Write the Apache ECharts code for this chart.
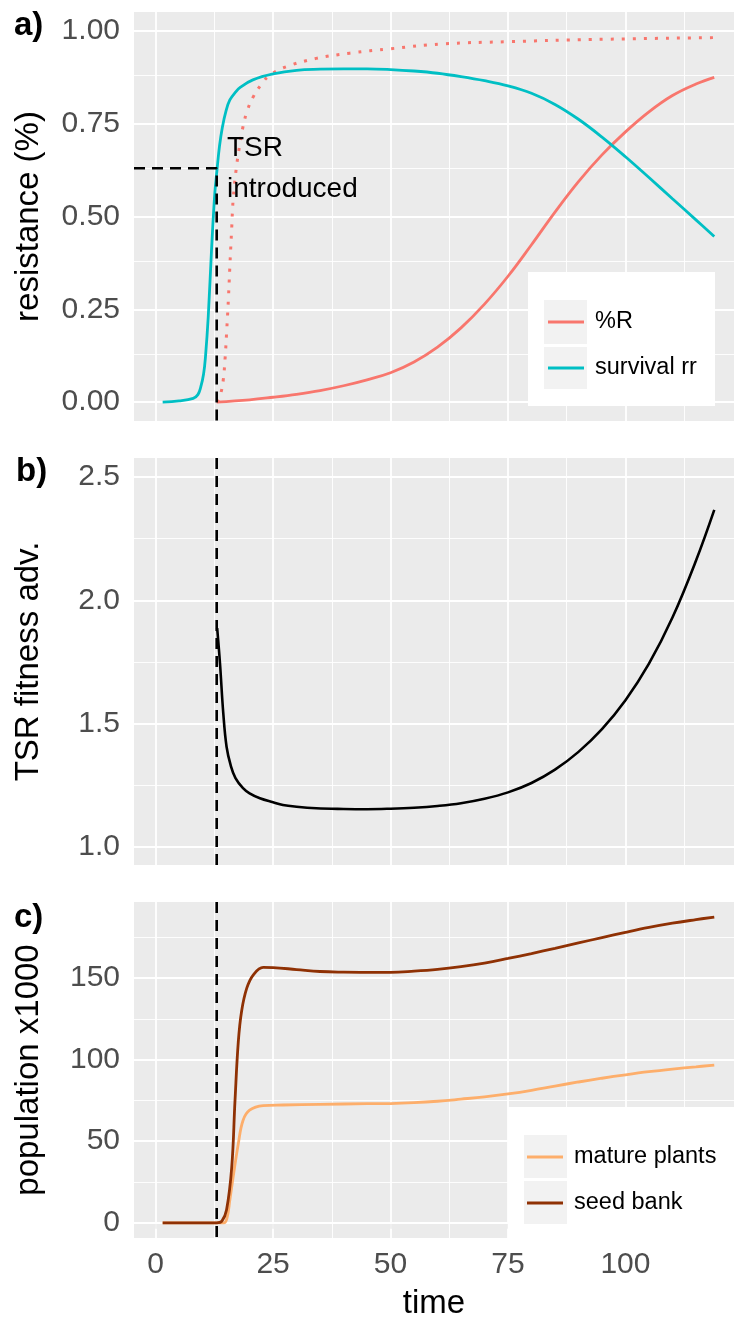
<!DOCTYPE html>
<html>
<head>
<meta charset="utf-8">
<script src="https://cdn.jsdelivr.net/npm/echarts@6/dist/echarts.min.js"></script>
<style>
  html, body { margin: 0; padding: 0; background: #fff; }
  #chart { width: 734px; height: 1321px; }
</style>
</head>
<body>
<div id="chart"></div>
<script>
// shared time axis
const timeMin = -4.6, timeMax = 123.1;
const timeTicks = [0, 25, 50, 75, 100];
const timeMinor = [12.5, 37.5, 62.5, 87.5, 112.5];
const tsrTime = 13;      // TSR introduced
const tsrLevel = 0.63;   // survival at introduction

// a) resistance
const resMin = -0.051, resMax = 1.051;
const resTicks = [0, 0.25, 0.5, 0.75, 1];
const resMinor = [0.125, 0.375, 0.625, 0.875];
const survTime = [1.5, 5, 8, 9, 9.6, 10.2, 10.6, 11.2, 11.9, 12.6, 13.1, 13.6, 14.2, 15, 15.8, 17, 18, 20.7, 25, 30, 35, 40, 45, 50, 55, 60, 65, 70, 75, 80, 85, 90, 95, 100, 105, 110, 115, 118.9];
const survRR = [0, 0.003, 0.01, 0.02, 0.04, 0.075, 0.12, 0.23, 0.41, 0.563, 0.63, 0.69, 0.74, 0.785, 0.814, 0.835, 0.848, 0.868, 0.884, 0.894, 0.897, 0.898, 0.898, 0.896, 0.892, 0.886, 0.877, 0.866, 0.852, 0.832, 0.802, 0.762, 0.714, 0.661, 0.605, 0.548, 0.491, 0.446];
const pctRTime = [13, 20, 25, 30, 35, 40, 45, 50, 55, 60, 65, 70, 75, 80, 85, 90, 95, 100, 105, 110, 115, 118.9];
const pctR = [0, 0.006, 0.013, 0.021, 0.031, 0.044, 0.06, 0.079, 0.108, 0.148, 0.2, 0.264, 0.339, 0.424, 0.512, 0.594, 0.666, 0.728, 0.782, 0.826, 0.857, 0.875];
const survRTime = [13, 13.3, 13.9, 14.4, 14.8, 15.1, 15.5, 15.8, 16.2, 16.5, 17.2, 18, 18.6, 19.5, 20.8, 22.5, 24.3, 27.9, 34.2, 41.3, 50, 61, 75, 93, 118.9];
const survR = [0, 0.005, 0.025, 0.06, 0.12, 0.185, 0.28, 0.365, 0.47, 0.545, 0.633, 0.70, 0.742, 0.785, 0.823, 0.856, 0.881, 0.904, 0.926, 0.94, 0.952, 0.965, 0.971, 0.977, 0.982];

// b) TSR fitness advantage
const fitMin = 0.928, fitMax = 2.576;
const fitTicks = [1, 1.5, 2, 2.5];
const fitMinor = [1.25, 1.75, 2.25];
const fitTime = [13.1, 13.7, 14.4, 15.1, 16, 17, 18.6, 20, 22.2, 25, 27.1, 30, 34.2, 40, 45, 50, 55, 60, 65, 70, 75, 80, 85, 90, 95, 100, 105, 110, 115, 118.9];
const fitAdv = [1.887, 1.745, 1.543, 1.407, 1.33, 1.28, 1.239, 1.218, 1.198, 1.182, 1.171, 1.164, 1.158, 1.155, 1.154, 1.156, 1.16, 1.167, 1.178, 1.196, 1.222, 1.26, 1.314, 1.386, 1.478, 1.595, 1.743, 1.93, 2.16, 2.366];

// c) population x1000
const popMin = -9.3, popMax = 196.6;
const popTicks = [0, 50, 100, 150];
const popMinor = [25, 75, 125, 175];
const seedTime = [1.5, 13, 14.1, 15.1, 16.2, 16.9, 17.6, 18.3, 19.4, 20.8, 22.9, 25, 30, 35, 40, 45, 50, 55, 60, 65, 70, 75, 80, 85, 90, 95, 100, 105, 110, 115, 118.9];
const seedBank = [0, 0, 1, 8, 34, 75, 111, 129.7, 143.8, 152, 156.5, 156.4, 155.2, 154, 153.6, 153.5, 153.5, 154.2, 155.3, 157, 159.2, 162, 165, 168.2, 171.5, 174.8, 178, 181, 183.6, 185.8, 187.4];
const matureTime = [1.5, 14.5, 15.2, 15.8, 16.5, 17.6, 18.6, 20, 22.9, 27.1, 35, 45, 50, 55, 60, 65, 70, 75, 80, 85, 90, 95, 100, 105, 110, 115, 118.9];
const mature = [0, 0, 3, 14, 28, 48.5, 62.7, 69, 71.8, 72.2, 72.6, 73, 73.1, 73.6, 74.5, 75.8, 77.2, 79, 81.2, 83.8, 86.3, 88.6, 90.7, 92.6, 94.2, 95.6, 96.7];

const FONT = '"Liberation Sans", Arial, sans-serif';
const zip = (xs, ys) => xs.map((x, i) => [x, ys[i]]);

const grids = [
  { left: 134, top: 12, width: 600, height: 409 },
  { left: 134, top: 458, width: 600, height: 407 },
  { left: 134, top: 902, width: 600, height: 339 }
].map(g => Object.assign(g, { show: true, backgroundColor: '#EBEBEB', borderWidth: 0 }));

const yDefs = [
  { min: resMin, max: resMax, ticks: resTicks, minor: resMinor, name: 'resistance (%)', fmt: v => v.toFixed(2) },
  { min: fitMin, max: fitMax, ticks: fitTicks, minor: fitMinor, name: 'TSR fitness adv.', fmt: v => v.toFixed(1) },
  { min: popMin, max: popMax, ticks: popTicks, minor: popMinor, name: 'population x1000', fmt: v => String(v) }
];

const xAxis = [0, 1, 2].map(i => ({
  type: 'value', gridIndex: i, min: timeMin, max: timeMax,
  splitLine: { show: false }, axisLine: { show: false },
  axisTick: { show: i === 2, customValues: timeTicks, length: 6, lineStyle: { color: '#333', width: 1.5 } },
  axisLabel: { show: i === 2, customValues: timeTicks, fontSize: 30, color: '#4D4D4D', fontFamily: FONT, margin: 12 },
  name: i === 2 ? 'time' : '', nameLocation: 'middle', nameGap: 49,
  nameTextStyle: { fontSize: 33, color: '#000', fontFamily: FONT }
}));

const yAxis = yDefs.map((d, i) => ({
  type: 'value', gridIndex: i, min: d.min, max: d.max,
  splitLine: { show: false }, axisLine: { show: false },
  axisTick: { show: true, customValues: d.ticks, length: 6, lineStyle: { color: '#333', width: 1.5 } },
  axisLabel: { customValues: d.ticks, formatter: d.fmt, fontSize: 30, color: '#4D4D4D', fontFamily: FONT, margin: 14 },
  name: d.name, nameLocation: 'middle', nameGap: 89,
  nameTextStyle: { fontSize: 33, color: '#000', fontFamily: FONT }
}));

// white panel grid lines
function gridLines(i) {
  const major = { color: '#fff', width: 1.8, type: 'solid' };
  const minor = { color: '#fff', width: 0.9, type: 'solid' };
  const d = yDefs[i];
  const data = [];
  timeMinor.forEach(v => data.push({ xAxis: v, lineStyle: minor }));
  d.minor.forEach(v => data.push({ yAxis: v, lineStyle: minor }));
  timeTicks.forEach(v => data.push({ xAxis: v, lineStyle: major }));
  d.ticks.forEach(v => data.push({ yAxis: v, lineStyle: major }));
  return {
    type: 'line', xAxisIndex: i, yAxisIndex: i, data: [], z: 1, silent: true,
    markLine: { silent: true, z: 1, symbol: ['none', 'none'], label: { show: false }, animation: false, data: data }
  };
}

function curve(name, i, xs, ys, color, extra) {
  return Object.assign({
    name: name, type: 'line', xAxisIndex: i, yAxisIndex: i, data: zip(xs, ys),
    symbol: 'none', smooth: 0.4, z: 3, silent: true,
    lineStyle: { color: color, width: 2.8 }, itemStyle: { color: color }
  }, extra || {});
}

const dashed = { color: '#000', width: 2.6, type: [11, 7] };

const series = [
  gridLines(0), gridLines(1), gridLines(2),
  curve('%R', 0, pctRTime, pctR, '#F8766D'),
  curve('R in survivors', 0, survRTime, survR, '#F8766D', { lineStyle: { color: '#F8766D', width: 3, type: [3, 8], cap: 'butt' } }),
  curve('survival rr', 0, survTime, survRR, '#00BFC4'),
  { type: 'line', xAxisIndex: 0, yAxisIndex: 0, symbol: 'none', z: 4, silent: true,
    data: [[timeMin, tsrLevel], [tsrTime, tsrLevel], [tsrTime, resMin]], lineStyle: dashed },
  { type: 'line', xAxisIndex: 1, yAxisIndex: 1, symbol: 'none', z: 4, silent: true,
    data: [[tsrTime, fitMax], [tsrTime, fitMin]], lineStyle: dashed },
  curve('fitness', 1, fitTime, fitAdv, '#000', { lineStyle: { color: '#000', width: 2.6 } }),
  { type: 'line', xAxisIndex: 2, yAxisIndex: 2, symbol: 'none', z: 4, silent: true,
    data: [[tsrTime, popMax], [tsrTime, popMin]], lineStyle: dashed },
  curve('mature plants', 2, matureTime, mature, '#FDAE6B'),
  curve('seed bank', 2, seedTime, seedBank, '#8F3104')
];

// one legend per key so each row sits exactly on its grey key box
const keyIcon = 'path://M0,0H36V3H0Z';
const legendItem = (name, left, centerY) => ({
  data: [name], orient: 'vertical', left: left, top: centerY - 12,
  icon: keyIcon, itemWidth: 36, itemHeight: 3, padding: 0, z: 10, selectedMode: false,
  textStyle: { fontSize: 23.5, lineHeight: 24, color: '#000', fontFamily: FONT, padding: [0, 0, 0, 6] }
});
const legend = [
  legendItem('%R', 548, 322),
  legendItem('survival rr', 548, 368),
  legendItem('mature plants', 527, 1157),
  legendItem('seed bank', 527, 1203)
];

const txt = (x, y, s, size, bold) => ({
  type: 'text', x: x, y: y, z: 8, silent: true,
  style: { text: s, fill: '#000', font: (bold ? 'bold ' : '') + size + 'px ' + FONT, textVerticalAlign: 'middle', verticalAlign: 'middle' }
});
const rect = (x, y, w, h, fill, z) => ({ type: 'rect', z: z, silent: true, shape: { x: x, y: y, width: w, height: h }, style: { fill: fill } });

const graphic = [
  rect(528, 272, 187, 134, '#fff', 6),
  rect(544, 300, 43, 44, '#F2F2F2', 7),
  rect(544, 347, 43, 42, '#F2F2F2', 7),
  rect(508, 1107, 226, 134, '#fff', 6),
  rect(524, 1135, 43, 43, '#F2F2F2', 7),
  rect(524, 1181, 43, 43, '#F2F2F2', 7),
  txt(14, 26, 'a)', 33, true),
  txt(16, 472, 'b)', 33, true),
  txt(14, 918, 'c)', 33, true),
  txt(227, 148, 'TSR', 28, false),
  txt(227, 189, 'introduced', 28, false)
];

const chart = echarts.init(document.getElementById('chart'));
chart.setOption({
  animation: false,
  backgroundColor: '#fff',
  textStyle: { fontFamily: FONT },
  grid: grids, xAxis: xAxis, yAxis: yAxis,
  legend: legend, graphic: graphic, series: series
});
</script>
</body>
</html>
